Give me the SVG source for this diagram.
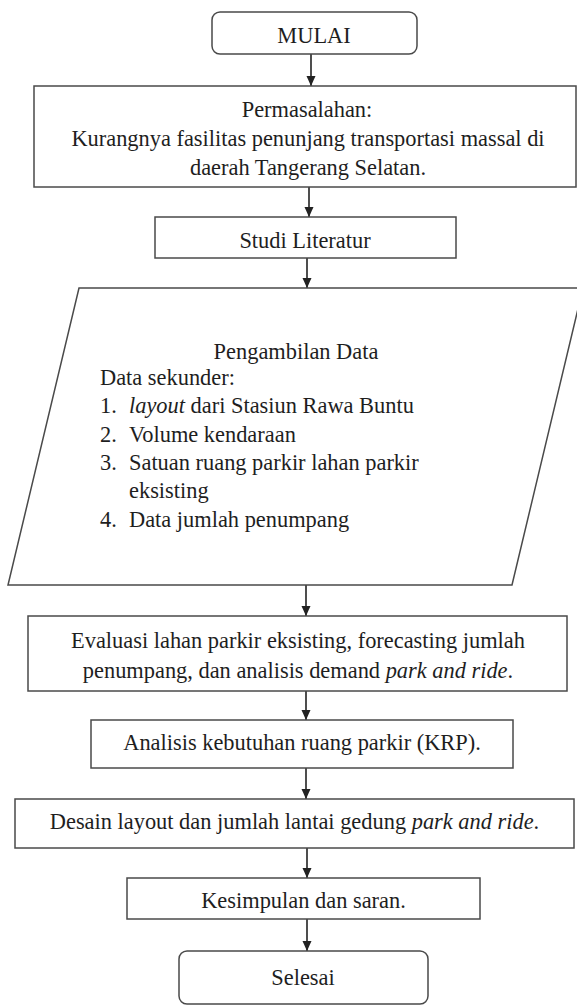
<svg xmlns="http://www.w3.org/2000/svg" width="577" height="1006" viewBox="0 0 577 1006">
<style>
.box{fill:#fff;stroke:#4a4a4a;stroke-width:1.5}
.t{font-family:"Liberation Serif","Times New Roman",serif;font-size:22.4px;fill:#1e1e1e}
.c{text-anchor:middle}
.i{font-style:italic}
.ln{stroke:#222;stroke-width:1.6;fill:none}
</style>
<defs>
<marker id="a" markerUnits="userSpaceOnUse" markerWidth="10" markerHeight="10" refX="10" refY="5" orient="auto" viewBox="0 0 10 10">
<path d="M0,0.5 L10,5 L0,9.5 Z" fill="#222"/>
</marker>
</defs>
<rect width="577" height="1006" fill="#fff"/>
<g id="connectors">
<line class="ln" x1="311" y1="54" x2="311" y2="86" marker-end="url(#a)"/>
<line class="ln" x1="309" y1="187" x2="309" y2="217" marker-end="url(#a)"/>
<line class="ln" x1="307" y1="258" x2="307" y2="288" marker-end="url(#a)"/>
<line class="ln" x1="306" y1="585" x2="306" y2="616" marker-end="url(#a)"/>
<line class="ln" x1="306" y1="691" x2="306" y2="720" marker-end="url(#a)"/>
<line class="ln" x1="306" y1="768" x2="306" y2="799" marker-end="url(#a)"/>
<line class="ln" x1="307" y1="848" x2="307" y2="878" marker-end="url(#a)"/>
<line class="ln" x1="307" y1="919" x2="307" y2="951" marker-end="url(#a)"/>
</g>
<g id="mulai">
<rect class="box" x="212" y="12" width="205" height="42" rx="8"/>
<text class="t c" x="314" y="43">MULAI</text>
</g>
<g id="permasalahan">
<rect class="box" x="34" y="86" width="542" height="101"/>
<text class="t c" x="307" y="117">Permasalahan:</text>
<text class="t c" x="308" y="146">Kurangnya fasilitas penunjang transportasi massal di</text>
<text class="t c" x="308" y="175">daerah Tangerang Selatan.</text>
</g>
<g id="studi">
<rect class="box" x="155" y="217" width="301" height="41"/>
<text class="t c" x="305" y="248">Studi Literatur</text>
</g>
<g id="pengambilan">
<polygon class="box" points="79,288 583,288 512,585 8,585"/>
<text class="t c" x="296" y="359">Pengambilan Data</text>
<text class="t" x="100" y="385">Data sekunder:</text>
<text class="t" x="100" y="413">1.</text>
<text class="t" x="129" y="413"><tspan class="i">layout</tspan> dari Stasiun Rawa Buntu</text>
<text class="t" x="100" y="442">2.</text>
<text class="t" x="129" y="442">Volume kendaraan</text>
<text class="t" x="100" y="470">3.</text>
<text class="t" x="129" y="470">Satuan ruang parkir lahan parkir</text>
<text class="t" x="129" y="498">eksisting</text>
<text class="t" x="100" y="527">4.</text>
<text class="t" x="129" y="527">Data jumlah penumpang</text>
</g>
<g id="evaluasi">
<rect class="box" x="28" y="616" width="539" height="75"/>
<text class="t c" x="298" y="648">Evaluasi lahan parkir eksisting, forecasting jumlah</text>
<text class="t c" x="298" y="678">penumpang, dan analisis demand <tspan class="i">park and ride</tspan>.</text>
</g>
<g id="analisis">
<rect class="box" x="91" y="720" width="422" height="48"/>
<text class="t c" x="302" y="750">Analisis kebutuhan ruang parkir (KRP).</text>
</g>
<g id="desain">
<rect class="box" x="15" y="799" width="559" height="49"/>
<text class="t c" x="294.5" y="829">Desain layout dan jumlah lantai gedung <tspan class="i">park and ride</tspan>.</text>
</g>
<g id="kesimpulan">
<rect class="box" x="127" y="878" width="353" height="41"/>
<text class="t c" x="303.5" y="908">Kesimpulan dan saran.</text>
</g>
<g id="selesai">
<rect class="box" x="179" y="951" width="249" height="53" rx="8"/>
<text class="t c" x="303" y="985">Selesai</text>
</g>
</svg>
